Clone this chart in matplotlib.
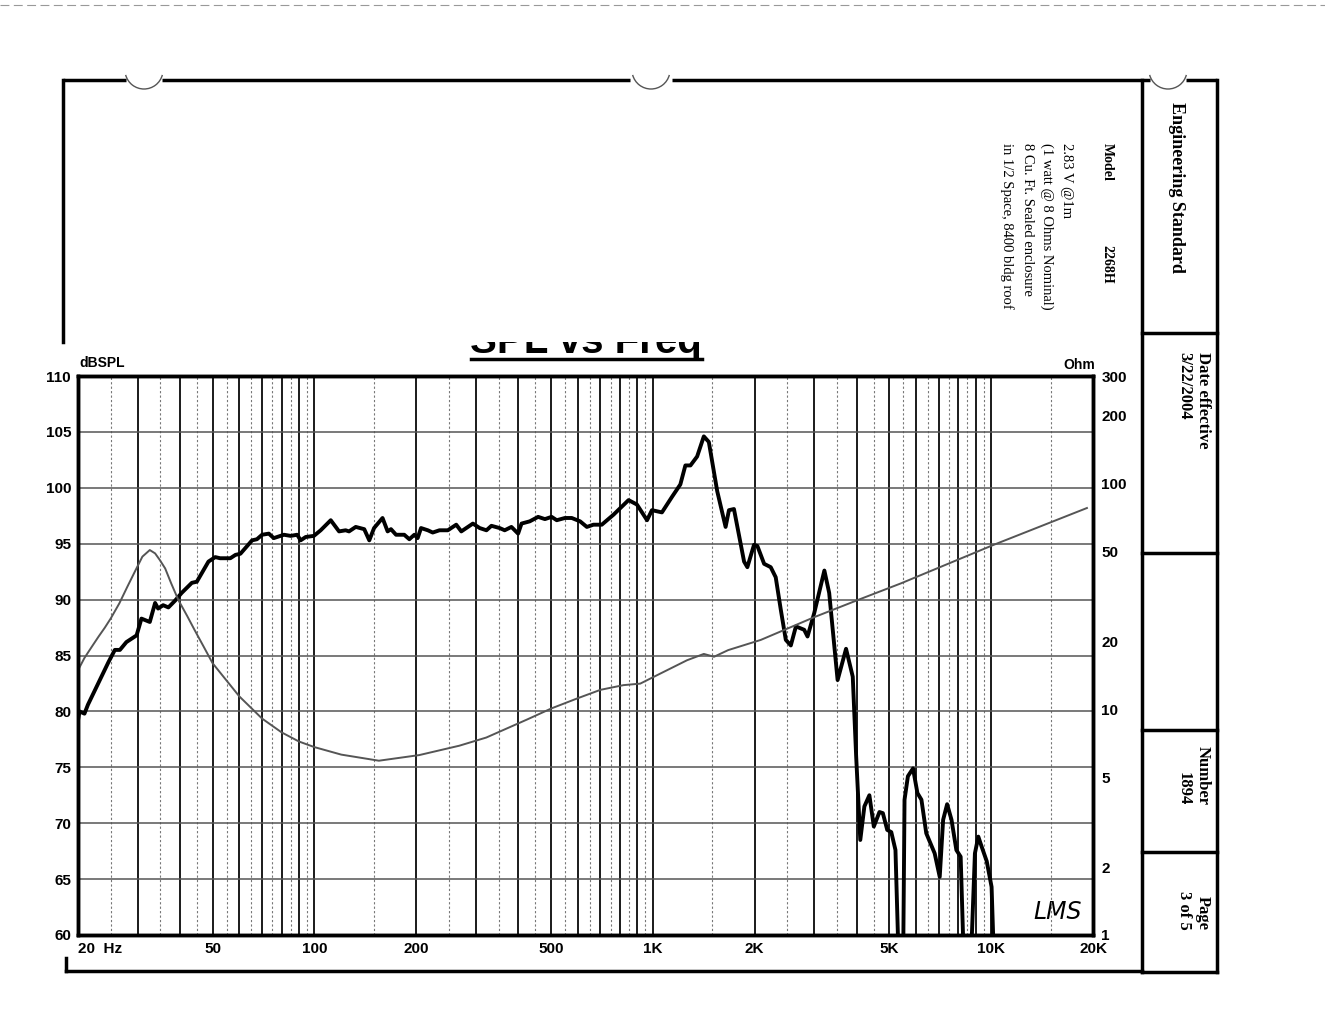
import matplotlib.pyplot as plt
from matplotlib.patches import Arc, Rectangle
from matplotlib.ticker import NullLocator

W, H = 1325, 1024

# SPL response (Hz, dB); 55 = below the 60 dB floor
spl_freq = [20, 20.2, 20.9, 21.4, 23.2, 24.6, 25.7, 26.6, 27.8, 29.8,
            30.8, 32.6, 33.8, 34.5, 35.7, 37.0, 38.7, 40.5, 43.4, 44.9,
            48.6, 50.9, 52.6, 56.4, 58.4, 60.4, 65.4, 67.6, 70.0, 73.3,
            75.8, 81.2, 85.0, 88.9, 91.0, 94.2, 99.6, 104.3, 111.7, 118.2,
            123.6, 126.5, 132.4, 140.3, 145.2, 150.0, 158.9, 164.5, 168.3, 174.2,
            184.2, 190.7, 197.3, 201.8, 206.5, 216.3, 223.6, 234.1, 247.8, 262.4,
            271.6, 284.0, 293.9, 307.8, 322.3, 333.4, 352.6, 364.9, 382.0, 399.8,
            409.2, 432.8, 458.2, 479.8, 502.2, 520.0, 549.9, 575.8, 609.6, 638.3,
            667.4, 706.6, 765.6, 847.7, 897.7, 961.5, 994, 1064, 1140, 1206,
            1248, 1292, 1352, 1415, 1464, 1550, 1641, 1679, 1737, 1861,
            1903, 1991, 2037, 2133, 2231, 2308, 2389, 2472, 2558, 2648,
            2801, 2866, 3000, 3214, 3321, 3517, 3725, 3899, 3990, 4104,
            4220, 4366, 4500, 4676, 4785, 4930, 5068, 5214, 5360, 5485,
            5546, 5675, 5876, 6054, 6222, 6430, 6809, 7047, 7212, 7411,
            7636, 7892, 8126, 8353, 8647, 8954, 9163, 9375, 9703, 10030,
            10260]
spl_db = [79.2, 80.0, 79.8, 80.6, 82.8, 84.4, 85.5, 85.5, 86.2, 86.8,
          88.3, 88.0, 89.7, 89.2, 89.5, 89.3, 89.9, 90.6, 91.5, 91.6,
          93.4, 93.8, 93.7, 93.7, 94.0, 94.1, 95.3, 95.4, 95.8, 95.9,
          95.5, 95.8, 95.7, 95.8, 95.3, 95.6, 95.7, 96.2, 97.1, 96.1,
          96.2, 96.1, 96.5, 96.3, 95.3, 96.4, 97.3, 96.1, 96.3, 95.8,
          95.8, 95.4, 95.8, 95.5, 96.4, 96.2, 96.0, 96.2, 96.2, 96.7,
          96.1, 96.5, 96.8, 96.4, 96.2, 96.6, 96.4, 96.2, 96.5, 95.9,
          96.8, 97.0, 97.4, 97.2, 97.4, 97.1, 97.3, 97.3, 97.0, 96.5,
          96.7, 96.7, 97.6, 98.9, 98.5, 97.1, 98.0, 97.8, 99.2, 100.3,
          102.0, 102.0, 102.8, 104.6, 104.1, 99.7, 96.5, 98.0, 98.1, 93.4,
          92.9, 94.9, 94.8, 93.2, 92.9, 92.0, 89.1, 86.4, 85.9, 87.6,
          87.3, 86.7, 88.8, 92.6, 90.6, 82.8, 85.6, 83.1, 76.0, 68.5,
          71.5, 72.5, 69.7, 71.0, 70.9, 69.4, 69.2, 67.6, 55, 55,
          72.1, 74.2, 74.9, 72.7, 72.1, 69.1, 67.3, 65.2, 70.3, 71.7,
          70.3, 67.6, 67.0, 55, 55, 67.3, 68.8, 67.9, 66.6, 64.3,
          55]

# impedance (Hz, Ohm)
imp_freq = [20, 20.9, 22, 23, 24, 25, 26.5, 28, 29.6, 31.0, 32.6, 33.8, 34.9,
            36.2, 37.7, 39.6, 42, 44.2, 47, 50, 55, 60, 70, 80, 90, 100,
            120, 155, 204, 268, 322, 424, 502, 600, 700, 819,
            918, 1052, 1262, 1415, 1517, 1670, 2084, 3017, 4033, 5423,
            10150, 19190]
imp_ohm = [14.9, 16.9, 19.0, 21.0, 23.0, 25.3, 29.5, 35.0, 41.4, 47.5, 50.8, 49.1, 45.9,
           42.1, 36.2, 30.5, 26.0, 22.5, 19.0, 16.0, 13.4, 11.4, 9.1, 7.9, 7.2, 6.8,
           6.3, 5.92, 6.27, 6.9, 7.5, 9.0, 10.1, 11.2, 12.2, 12.8,
           13.0, 14.4, 16.5, 17.6, 17.1, 18.3, 20.3, 25.7, 30.5, 36.2,
           53.5, 78]

x_ticks = [20, 50, 100, 200, 500, 1000, 2000, 5000, 10000, 20000]
x_labels = ["20  Hz", "50", "100", "200", "500", "1K", "2K", "5K", "10K", "20K"]
db_ticks = [60, 65, 70, 75, 80, 85, 90, 95, 100, 105, 110]
ohm_ticks = [1, 2, 5, 10, 20, 50, 100, 200, 300]

sans = "Liberation Sans"
serif = "Liberation Serif"

fig = plt.figure(figsize=(W / 100, H / 100), dpi=100)

# page layer in pixel coordinates
pg = fig.add_axes([0, 0, 1, 1])
pg.set_xlim(0, W)
pg.set_ylim(H, 0)
pg.axis("off")

pg.plot([0, W], [5, 5], color="#999999", lw=0.8, ls=(0, (8, 4)))
# top border with punch-hole gaps
for xa, xb in [(63, 126), (162, 630), (672, 1150), (1186, 1217)]:
    pg.plot([xa, xb], [80, 80], color="k", lw=2.5, solid_capstyle="butt")
for cx in [144, 651, 1168]:
    pg.add_patch(Arc((cx, 70), 38, 38, theta1=15, theta2=165, color="#555555", lw=1))
pg.plot([63, 63], [80, 342], color="k", lw=2.5)
pg.plot([66, 66], [958, 971], color="k", lw=2.5)
pg.plot([66, 1142], [971, 971], color="k", lw=2.5)
pg.plot([1142, 1142], [80, 972], color="k", lw=2.5)
pg.plot([1217, 1217], [80, 972], color="k", lw=2.5)
pg.plot([1142, 1217], [972, 972], color="k", lw=2.5)
for yy in [333, 553, 730, 852]:
    pg.plot([1142, 1217], [yy, yy], color="k", lw=2.5)

rot = dict(rotation=270, ha="center", family=serif, color="k")
pg.text(1177, 102, "Engineering Standard", va="top", fontsize=13, fontweight="bold", **rot)
pg.text(1203, 352, "Date effective", va="top", fontsize=12, fontweight="bold", **rot)
pg.text(1184, 352, "3/22/2004", va="top", fontsize=12, fontweight="bold", **rot)
pg.text(1203, 805, "Number", va="bottom", fontsize=12, fontweight="bold", **rot)
pg.text(1184, 805, "1894", va="bottom", fontsize=12, fontweight="bold", **rot)
pg.text(1203, 930, "Page", va="bottom", fontsize=12, fontweight="bold", **rot)
pg.text(1184, 930, "3 of 5", va="bottom", fontsize=12, fontweight="bold", **rot)

pg.text(1107, 143, "Model", va="top", fontsize=10, fontweight="bold", **rot)
pg.text(1107, 245, "2268H", va="top", fontsize=10, fontweight="bold", **rot)
pg.text(1066, 143, "2.83 V @1m", va="top", fontsize=10.5, **rot)
pg.text(1047, 143, "(1 watt @ 8 Ohms Nominal)", va="top", fontsize=10.5, **rot)
pg.text(1027, 143, "8 Cu. Ft. Sealed enclosure", va="top", fontsize=10.5, **rot)
pg.text(1007, 143, "in 1/2 Space, 8400 bldg roof", va="top", fontsize=10.5, **rot)

# title, cut off at the top as in the scan: a white strip hides the upper part
pg.text(586, 353, "SPL vs Freq", ha="center", va="baseline",
        fontsize=29, fontweight="bold", family=sans, zorder=3)
pg.add_patch(Rectangle((440, 290), 300, 52, facecolor="white", edgecolor="none", zorder=5))
pg.plot([471, 702], [359, 359], color="k", lw=2.5)

pg.text(79, 363, "dBSPL", ha="left", va="center", fontsize=10, fontweight="bold", family=sans)
pg.text(1095, 365, "Ohm", ha="right", va="center", fontsize=10, fontweight="bold", family=sans)
pg.text(1058, 912, "LMS", ha="center", va="center", fontsize=17, fontstyle="italic",
        family="DejaVu Sans", fontweight="light")

# chart
ax = fig.add_axes([78 / W, 1 - 935 / H, (1093 - 78) / W, (935 - 376) / H])
ax.set_xscale("log")
ax.set_xlim(20, 20000)
ax.set_ylim(60, 110)
ax.patch.set_alpha(0)

for n in (1, 2, 3, 4):
    for k in range(1, 10):
        f = k * 10 ** n
        if 20 < f <= 10000:
            ax.axvline(f, color="#1a1a1a", lw=1.4, zorder=1)
        fh = (k + 0.5) * 10 ** n
        if 20 < fh < 20000:
            ax.axvline(fh, color="#777777", lw=0.8, ls=(0, (2, 2)), zorder=1)
for d in db_ticks[1:-1]:
    ax.axhline(d, color="#555555", lw=1.1, zorder=1)

ax.plot(spl_freq, spl_db, color="k", lw=2.8, zorder=3)

ax.set_xticks(x_ticks)
ax.set_xticklabels(x_labels)
ax.xaxis.set_minor_locator(NullLocator())
ax.set_yticks(db_ticks)
ax.tick_params(length=0, labelsize=11, pad=5)
for lab in ax.get_xticklabels() + ax.get_yticklabels():
    lab.set_fontweight("bold")
    lab.set_family(sans)
ax.get_xticklabels()[0].set_ha("left")
for s in ax.spines.values():
    s.set_linewidth(2.5)

ax2 = ax.twinx()
ax2.set_yscale("log")
ax2.set_ylim(1, 300)
ax2.plot(imp_freq, imp_ohm, color="#555555", lw=1.4, zorder=2)
ax2.set_yticks(ohm_ticks)
ax2.set_yticklabels([str(v) for v in ohm_ticks])
ax2.yaxis.set_minor_locator(NullLocator())
ax2.tick_params(length=0, labelsize=11, pad=6)
for lab in ax2.get_yticklabels():
    lab.set_fontweight("bold")
    lab.set_family(sans)
for s in ax2.spines.values():
    s.set_linewidth(2.5)

fig.savefig("out.png", dpi=100)
